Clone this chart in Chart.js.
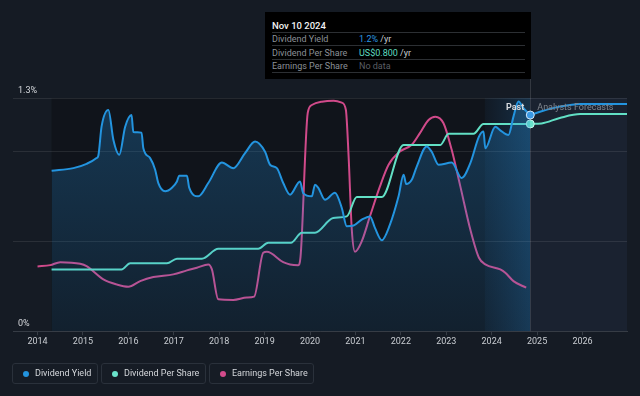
<!DOCTYPE html>
<html>
<head>
<meta charset="utf-8">
<script src="https://cdn.jsdelivr.net/npm/chart.js@4.4.1/dist/chart.umd.min.js"></script>
<style>
html,body{margin:0;padding:0;background:#151b24;}
#wrap{position:relative;width:640px;height:396px;overflow:hidden;font-family:Roboto,"Noto Sans",sans-serif;}
#c{position:absolute;left:0;top:0;}
.tip{position:absolute;left:265px;top:12px;width:266px;height:67px;background:#000;}
.tip .t{position:absolute;left:7px;top:0;height:20px;line-height:28px;font-size:9.5px;font-weight:500;color:#f2f2f2;}
.tip .sep{position:absolute;left:7px;width:253px;height:1px;background:#2c2f33;}
.tip .row{position:absolute;left:7px;font-size:9px;color:#8b9097;line-height:12px;}
.tip .val{position:absolute;left:94px;font-size:9px;line-height:12px;color:#c8ccd0;}
.lg{position:absolute;top:363px;height:21px;border:1px solid #2a313b;border-radius:3px;box-sizing:border-box;background:#161c25;}
.lg .d{position:absolute;left:10px;top:6.5px;width:6px;height:6px;border-radius:50%;}
.lg .l{position:absolute;left:22px;top:0;line-height:19px;font-size:9px;color:#d4d7db;white-space:nowrap;}
</style>
</head>
<body>
<div id="wrap">
<canvas id="c" width="640" height="396"></canvas>
<div class="tip">
  <div class="t">Nov 10 2024</div>
  <div class="sep" style="top:20px"></div>
  <div class="row" style="top:21px">Dividend Yield</div>
  <div class="val" style="top:21px"><span style="color:#2a96e0">1.2%</span> /yr</div>
  <div class="sep" style="top:33px"></div>
  <div class="row" style="top:35px">Dividend Per Share</div>
  <div class="val" style="top:35px"><span style="color:#5fdcc0">US$0.800</span> /yr</div>
  <div class="sep" style="top:47px"></div>
  <div class="row" style="top:48px">Earnings Per Share</div>
  <div class="val" style="top:48px;color:#5a5e64">No data</div>
  <div class="sep" style="top:60px"></div>
</div>
<div class="lg" style="left:12px;width:86px"><div class="d" style="background:#2394df"></div><div class="l">Dividend Yield</div></div>
<div class="lg" style="left:101px;width:105px"><div class="d" style="background:#6ae3cb"></div><div class="l">Dividend Per Share</div></div>
<div class="lg" style="left:209px;width:105px"><div class="d" style="background:#d24b8b"></div><div class="l">Earnings Per Share</div></div>
</div>
<script>
// ---- data ----
const yearTicks = [2014, 2015, 2016, 2017, 2018, 2019, 2020, 2021, 2022, 2023, 2024, 2025, 2026];
const yieldTicks = [0, 0.5, 1.0, 1.3];
const yieldTickLabels = ['0%', '', '', '1.3%'];

const yieldYears = [2014.31, 2014.79, 2015.08, 2015.30, 2015.34, 2015.41, 2015.56, 2015.67, 2015.80, 2015.93,
  2016.07, 2016.11, 2016.29, 2016.33, 2016.48, 2016.59, 2016.66, 2016.81, 2016.96, 2017.07,
  2017.12, 2017.29, 2017.34, 2017.54, 2017.76, 2018.06, 2018.31, 2018.57, 2018.79, 2019.01,
  2019.12, 2019.27, 2019.41, 2019.56, 2019.78, 2019.85, 2020.04, 2020.11, 2020.18, 2020.33,
  2020.55, 2020.70, 2020.81, 2020.96, 2021.14, 2021.32, 2021.43, 2021.58, 2021.76, 2021.95,
  2022.06, 2022.12, 2022.24, 2022.35, 2022.57, 2022.68, 2022.83, 2023.12, 2023.34, 2023.53,
  2023.72, 2023.82, 2023.86, 2024.08, 2024.19, 2024.37, 2024.48, 2024.59, 2024.70, 2024.85];
const yieldValues = [0.894, 0.909, 0.933, 0.965, 0.98, 1.14, 1.233, 1.067, 0.983, 1.14,
  1.205, 1.11, 1.107, 1.02, 0.965, 0.9, 0.826, 0.78, 0.8, 0.835,
  0.867, 0.867, 0.8, 0.752, 0.826, 0.94, 0.909, 0.993, 1.057, 1.0,
  0.928, 0.909, 0.826, 0.761, 0.835, 0.77, 0.752, 0.817, 0.8, 0.733,
  0.772, 0.687, 0.585, 0.589, 0.622, 0.64, 0.576, 0.507, 0.594, 0.752,
  0.872, 0.82, 0.844, 0.918, 1.03, 1.0, 0.928, 0.94, 0.854, 0.937,
  1.085, 1.113, 1.02, 1.14, 1.12, 1.094, 1.196, 1.28, 1.243, 1.205];

const dpsYears = [2014.31, 2015.85, 2016.04, 2016.85, 2017.07, 2017.62, 2017.98, 2018.86, 2019.08, 2019.58,
  2019.82, 2020.11, 2020.51, 2020.81, 2021.03, 2021.58, 2022.06, 2022.87, 2023.05, 2023.60, 2023.82, 2024.85];
const dpsValues = [0.238, 0.238, 0.262, 0.262, 0.28, 0.28, 0.318, 0.318, 0.341, 0.341,
  0.38, 0.38, 0.437, 0.443, 0.518, 0.518, 0.719, 0.719, 0.762, 0.762, 0.8, 0.8];

const epsYears = [2014.0, 2014.28, 2014.5, 2014.94, 2015.08, 2015.45, 2015.74, 2016.0, 2016.26, 2016.55,
  2016.99, 2017.29, 2017.51, 2017.76, 2017.84, 2017.98, 2018.31, 2018.61, 2018.77, 2018.97,
  2019.05, 2019.41, 2019.56, 2019.74, 2019.79, 2019.95, 2020.04, 2020.26, 2020.52, 2020.70,
  2020.79, 2020.85, 2020.92, 2020.99, 2021.14, 2021.32, 2021.54, 2021.73, 2021.98, 2022.24,
  2022.42, 2022.61, 2022.76, 2022.94, 2023.12, 2023.31, 2023.53, 2023.72, 2023.86, 2024.19,
  2024.30, 2024.48, 2024.76];
const epsValues = [1.083, 1.105, 1.155, 1.128, 1.088, 0.867, 0.783, 0.745, 0.838, 0.905,
  0.95, 1.017, 1.062, 1.117, 1.033, 0.533, 0.522, 0.562, 0.578, 1.312,
  1.328, 1.155, 1.117, 1.105, 1.233, 3.65, 3.783, 3.838, 3.855, 3.822,
  3.7, 2.922, 1.7, 1.328, 1.505, 1.922, 2.422, 2.783, 3.005, 3.117,
  3.312, 3.533, 3.588, 3.478, 3.033, 2.422, 1.7, 1.228, 1.117, 1.033,
  0.978, 0.838, 0.728];

const forecastYears = [2024.85, 2025.1, 2025.5, 2025.95, 2026.98];
const forecastYield = [1.205, 1.226, 1.252, 1.267, 1.267];
const forecastDps = [0.8, 0.802, 0.823, 0.838, 0.838];

const pastStart = 2014.31;
const pastBandStart = 2023.85;
const todayYear = 2024.85;
// ---------------------------------------

const pts = (xs, ys) => xs.map((x, i) => ({x: x, y: ys[i]}));
const lastDot = (n) => (c) => (c.dataIndex === n - 1 ? 4 : 0);

const panels = {
  id: 'panels',
  beforeDraw(chart) {
    const {ctx, chartArea: a, scales: {x}} = chart;
    ctx.save();
    ctx.fillStyle = '#151b24';
    ctx.fillRect(0, 0, chart.width, chart.height);
    const x0 = x.getPixelForValue(pastStart);
    const x1 = x.getPixelForValue(pastBandStart);
    const x2 = x.getPixelForValue(todayYear);
    ctx.fillStyle = '#10141b';
    ctx.fillRect(x0, a.top, x2 - x0, a.bottom - a.top);
    const g = ctx.createLinearGradient(x1, 0, x2, 0);
    g.addColorStop(0, 'rgba(40,120,190,0.06)');
    g.addColorStop(1, 'rgba(40,130,200,0.26)');
    ctx.fillStyle = g;
    ctx.fillRect(x1, a.top, x2 - x1, a.bottom - a.top);
    ctx.fillStyle = '#1a2230';
    ctx.fillRect(x2, a.top, a.right - x2, a.bottom - a.top);
    ctx.restore();
  },
  beforeDatasetsDraw(chart) {
    const {ctx, chartArea: a, scales: {x}} = chart;
    const x2 = Math.round(x.getPixelForValue(todayYear)) + 0.5;
    ctx.save();
    ctx.strokeStyle = 'rgba(255,255,255,0.13)';
    ctx.lineWidth = 1;
    ctx.beginPath();
    ctx.moveTo(x2, 79);
    ctx.lineTo(x2, a.bottom);
    ctx.stroke();
    ctx.restore();
  },
  afterDatasetsDraw(chart) {
    const {ctx, scales: {x, y}} = chart;
    const x2 = x.getPixelForValue(todayYear);
    const ty = y.getPixelForValue(1.244);
    ctx.save();
    ctx.textBaseline = 'middle';
    ctx.font = 'bold 9px Roboto';
    ctx.fillStyle = '#d6d9dd';
    ctx.textAlign = 'right';
    ctx.fillText('Past', x2 - 6, ty);
    ctx.font = '9px Roboto';
    ctx.fillStyle = '#80868e';
    ctx.textAlign = 'left';
    ctx.fillText('Analysts Forecasts', x2 + 7, ty);
    ctx.restore();
  }
};

new Chart(document.getElementById('c'), {
  type: 'line',
  data: {
    datasets: [
      {
        label: 'Dividend Yield',
        data: pts(yieldYears, yieldValues),
        yAxisID: 'y',
        borderColor: '#2394df',
        borderWidth: 2,
        cubicInterpolationMode: 'monotone',
        fill: 'origin',
        backgroundColor: (c) => {
          const ch = c.chart; const a = ch.chartArea;
          if (!a) return 'rgba(35,148,223,0.2)';
          const g = ch.ctx.createLinearGradient(0, a.top, 0, a.bottom);
          g.addColorStop(0, 'rgba(35,140,215,0.30)');
          g.addColorStop(1, 'rgba(35,140,215,0.10)');
          return g;
        },
        pointRadius: lastDot(yieldYears.length),
        pointBackgroundColor: '#3a98e4',
        pointBorderColor: '#cfe6fb',
        pointBorderWidth: 1,
        clip: 4,
        order: 1
      },
      {
        label: 'Dividend Yield forecast',
        data: pts(forecastYears, forecastYield),
        yAxisID: 'y',
        borderColor: '#2394df',
        borderWidth: 2,
        cubicInterpolationMode: 'monotone',
        fill: false,
        pointRadius: 0,
        order: 2
      },
      {
        label: 'Dividend Per Share',
        data: pts(dpsYears, dpsValues),
        yAxisID: 'yDps',
        borderColor: '#62e0c5',
        borderWidth: 2,
        cubicInterpolationMode: 'monotone',
        fill: false,
        pointRadius: lastDot(dpsYears.length),
        pointBackgroundColor: '#6ae3cb',
        pointBorderColor: '#c9f7ec',
        pointBorderWidth: 1,
        order: 3
      },
      {
        label: 'Dividend Per Share forecast',
        data: pts(forecastYears, forecastDps),
        yAxisID: 'yDps',
        borderColor: '#62e0c5',
        borderWidth: 2,
        cubicInterpolationMode: 'monotone',
        fill: false,
        pointRadius: 0,
        order: 4
      },
      {
        label: 'Earnings Per Share',
        data: pts(epsYears, epsValues),
        yAxisID: 'yEps',
        borderColor: '#d04a8a',
        borderWidth: 2,
        cubicInterpolationMode: 'monotone',
        fill: false,
        pointRadius: 0,
        clip: 4,
        order: 5
      }
    ]
  },
  options: {
    responsive: false,
    animation: false,
    layout: {padding: {left: 3, right: 13, top: 98, bottom: 48}},
    plugins: {legend: {display: false}, tooltip: {enabled: false}},
    scales: {
      x: {
        type: 'linear',
        min: 2013.46,
        max: 2026.98,
        afterBuildTicks: (s) => { s.ticks = yearTicks.map(v => ({value: v})); },
        ticks: {
          callback: (v) => String(v),
          color: '#c9cdd2',
          font: {family: 'Roboto', size: 9},
          padding: 1,
          maxRotation: 0
        },
        grid: {display: true, drawOnChartArea: false, drawTicks: true, tickLength: 4, tickColor: '#363c45'},
        border: {display: true, color: '#363c45', width: 1}
      },
      y: {
        type: 'linear',
        position: 'left',
        min: 0,
        max: 1.3,
        afterBuildTicks: (s) => { s.ticks = yieldTicks.map(v => ({value: v})); },
        ticks: {
          mirror: true,
          padding: 5,
          labelOffset: -7,
          color: '#d6d9dd',
          font: {family: 'Roboto', size: 9},
          callback: (v) => { const i = yieldTicks.indexOf(v); return i >= 0 ? yieldTickLabels[i] : ''; }
        },
        grid: {color: 'rgba(255,255,255,0.09)', drawTicks: false},
        border: {display: false}
      },
      yDps: {type: 'linear', display: false, min: 0, max: 0.9},
      yEps: {type: 'linear', display: false, min: 0, max: 3.9}
    }
  },
  plugins: [panels]
});
</script>
</body>
</html>
